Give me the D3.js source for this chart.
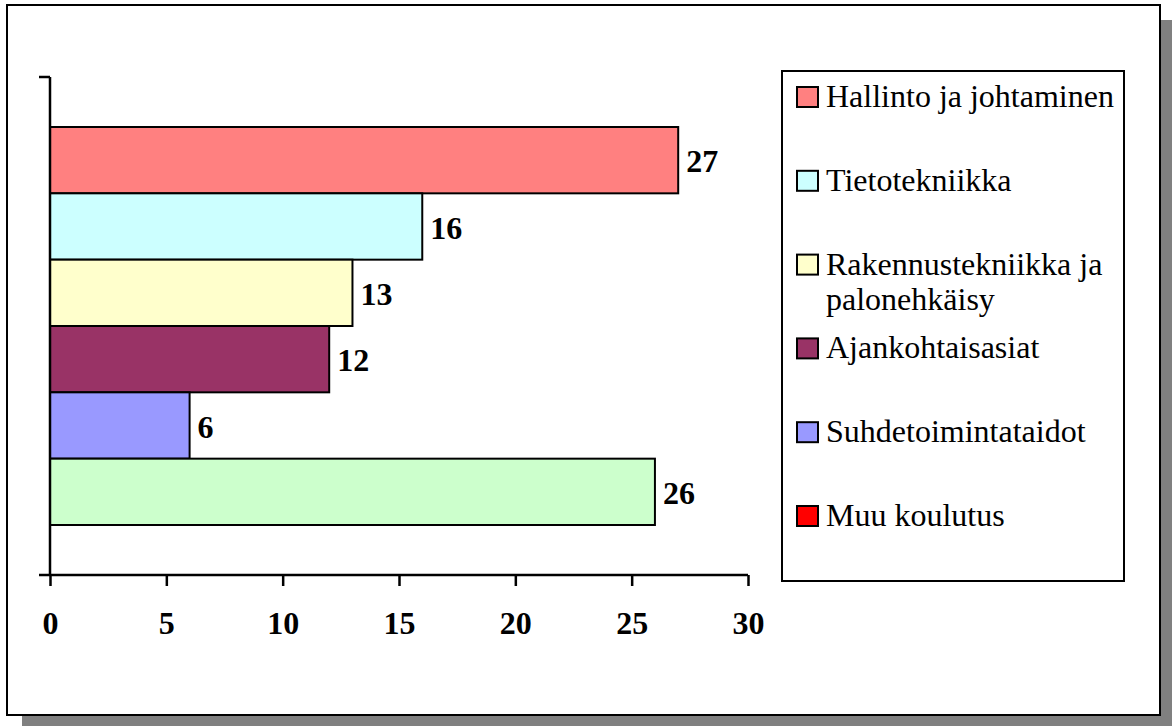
<!DOCTYPE html>
<html>
<head>
<meta charset="utf-8">
<script src="https://d3js.org/d3.v7.min.js"></script>
<style>
  body { margin: 0; background: #fff; }
  svg { display: block; }
  text { font-family: "Liberation Serif", "Times New Roman", serif; }
</style>
</head>
<body>
<script>
// chart data
const series = [
  "Hallinto ja johtaminen",
  "Tietotekniikka",
  "Rakennustekniikka ja palonehkäisy",
  "Ajankohtaisasiat",
  "Suhdetoimintataidot",
  "Muu koulutus",
];
const values = [27, 16, 13, 12, 6, 26];
const barColors = ["#FF8080", "#CCFFFF", "#FFFFCC", "#993366", "#9999FF", "#CCFFCC"];
const legendColors = ["#FF8080", "#CCFFFF", "#FFFFCC", "#993366", "#9999FF", "#FF0000"];
const legendLines = [
  ["Hallinto ja johtaminen"],
  ["Tietotekniikka"],
  ["Rakennustekniikka ja", "palonehkäisy"],
  ["Ajankohtaisasiat"],
  ["Suhdetoimintataidot"],
  ["Muu koulutus"],
];
const xTicks = [0, 5, 10, 15, 20, 25, 30];

const width = 1172;
const height = 726;

const svg = d3.select("body").append("svg")
  .attr("width", width)
  .attr("height", height);

// frame with drop shadow
svg.append("rect")
  .attr("x", 22).attr("y", 20)
  .attr("width", 1160).attr("height", 720)
  .attr("fill", "#808080");
svg.append("rect")
  .attr("x", 7).attr("y", 5)
  .attr("width", 1153).attr("height", 710)
  .attr("fill", "#fff")
  .attr("stroke", "#000")
  .attr("stroke-width", 2);

// plot area
const plotTop = 77;
const plotBottom = 575;
const plotLeft = 50;

const x = d3.scaleLinear().domain([0, 30]).range([plotLeft, 748]);
const y = d3.scaleBand().domain(series).range([127, 525]).padding(0);

// bars
svg.append("g")
  .selectAll("rect")
  .data(series)
  .join("rect")
  .attr("x", x(0))
  .attr("y", d => y(d))
  .attr("width", (d, i) => x(values[i]) - x(0))
  .attr("height", y.bandwidth())
  .attr("fill", (d, i) => barColors[i])
  .attr("stroke", "#000")
  .attr("stroke-width", 2);

// value labels
svg.append("g")
  .selectAll("text")
  .data(series)
  .join("text")
  .attr("x", (d, i) => x(values[i]) + 8)
  .attr("y", d => y(d) + y.bandwidth() / 2 + 12)
  .attr("font-size", 32)
  .attr("font-weight", "bold")
  .text((d, i) => values[i]);

// x axis
const xAxis = svg.append("g")
  .attr("transform", `translate(0,${plotBottom})`)
  .call(d3.axisBottom(x).tickValues(xTicks).tickSize(11).tickSizeOuter(0).tickPadding(0));
xAxis.select(".domain").remove();
xAxis.selectAll(".tick line").attr("stroke", "#000").attr("stroke-width", 2.5);
xAxis.selectAll(".tick text")
  .attr("y", 59)
  .attr("dy", null)
  .attr("fill", "#000")
  .attr("font-size", 32)
  .attr("font-weight", "bold")
  .attr("font-family", null);
svg.append("line")
  .attr("x1", 39).attr("x2", x(30))
  .attr("y1", plotBottom).attr("y2", plotBottom)
  .attr("stroke", "#000").attr("stroke-width", 2.5);

// category axis
svg.append("line")
  .attr("x1", plotLeft).attr("x2", plotLeft)
  .attr("y1", plotTop).attr("y2", plotBottom)
  .attr("stroke", "#000").attr("stroke-width", 2.5);
svg.append("line")
  .attr("x1", 39).attr("x2", plotLeft)
  .attr("y1", plotTop).attr("y2", plotTop)
  .attr("stroke", "#000").attr("stroke-width", 2.5);

// legend
svg.append("rect")
  .attr("x", 782).attr("y", 71)
  .attr("width", 342).attr("height", 510)
  .attr("fill", "#fff")
  .attr("stroke", "#000")
  .attr("stroke-width", 2);

const legend = svg.append("g")
  .selectAll("g")
  .data(series)
  .join("g")
  .attr("transform", (d, i) => `translate(797,${107 + i * 83.8})`);

legend.append("rect")
  .attr("x", 0).attr("y", -20)
  .attr("width", 21).attr("height", 20)
  .attr("fill", (d, i) => legendColors[i])
  .attr("stroke", "#000")
  .attr("stroke-width", 2);

legend.append("text")
  .attr("x", 29)
  .attr("font-size", 32)
  .attr("fill", "#000")
  .selectAll("tspan")
  .data((d, i) => legendLines[i])
  .join("tspan")
  .attr("x", 29)
  .attr("dy", (d, j) => j === 0 ? 0 : 35)
  .text(d => d);
</script>
</body>
</html>
